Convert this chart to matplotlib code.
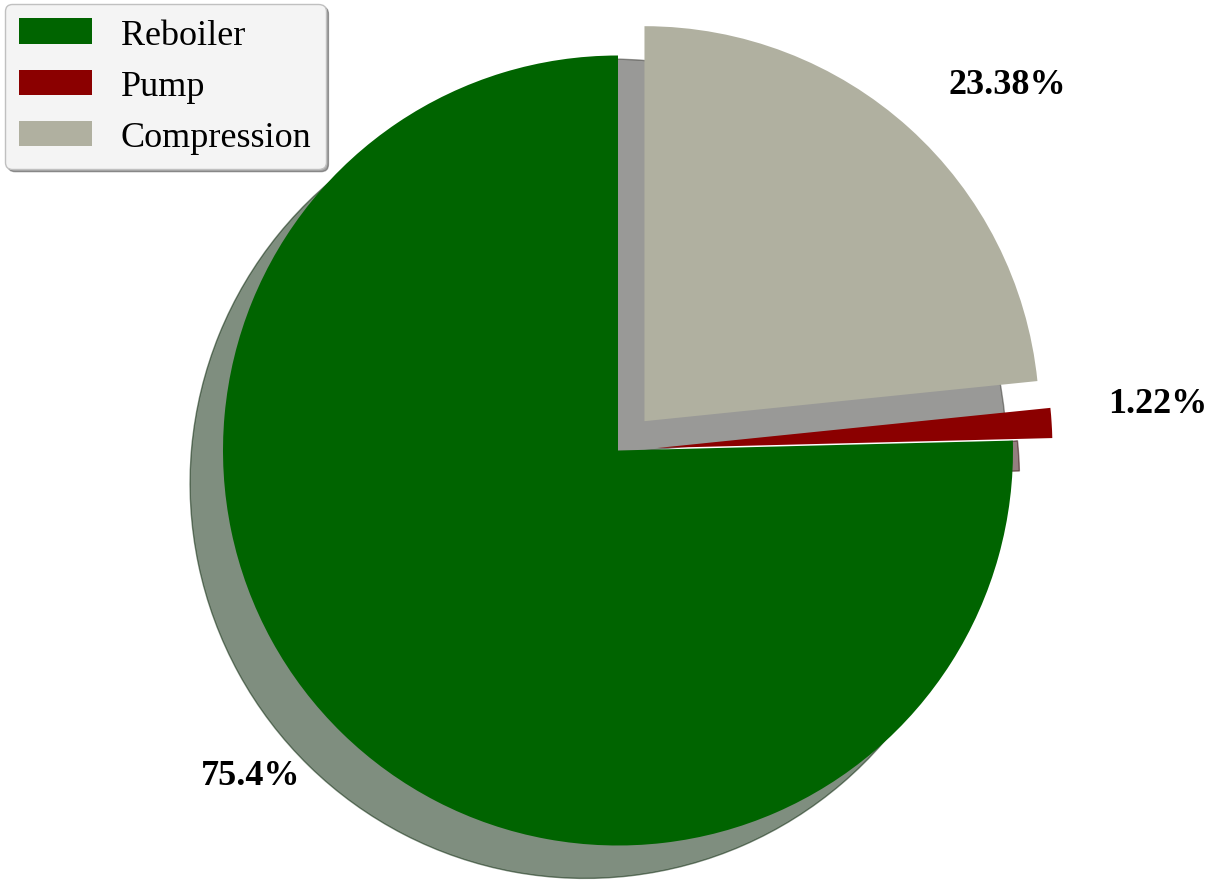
import numpy as np
import matplotlib
matplotlib.use("Agg")
import matplotlib.pyplot as plt

plt.rcParams['font.family'] = ['Liberation Serif', 'DejaVu Serif']

names = ["Reboiler", "Pump", "Compression"]
shares = [75.4, 1.22, 23.38]
pct_labels = ["75.4%", "1.22%", "23.38%"]
colors = ["#006400", "#8b0000", "#b0b0a0"]
explode = [0, 0.1, 0.1]

fig = plt.figure(figsize=(12.07, 8.87), dpi=100)
ax = fig.add_axes([0, 0, 1, 1])

wedges, texts = ax.pie(shares, labels=pct_labels, colors=colors, explode=explode,
                       startangle=90, counterclock=True, labeldistance=1.15,
                       shadow={'ox': -0.06, 'oy': -0.06},
                       textprops={'fontsize': 26, 'fontweight': 'bold'})

# small label sits a little higher / further left than the default spot
texts[1].set_position((1.24, 0.118))

# pie centre sits a bit right of the middle, radius ~395 px
ax.set_xlim(-618 / 395, (1207 - 618) / 395)
ax.set_ylim(-(887 - 451.5) / 395, 451.5 / 395)
ax.axis('off')

leg = ax.legend(wedges, names, loc='upper left', bbox_to_anchor=(5 / 1207, 1 - 5 / 887),
                bbox_transform=fig.transFigure, borderaxespad=0, fontsize=26,
                fancybox=True, shadow=True, framealpha=1,
                facecolor='#f4f4f4', edgecolor='#c0c0c0')

fig.savefig("out.png", dpi=100)
